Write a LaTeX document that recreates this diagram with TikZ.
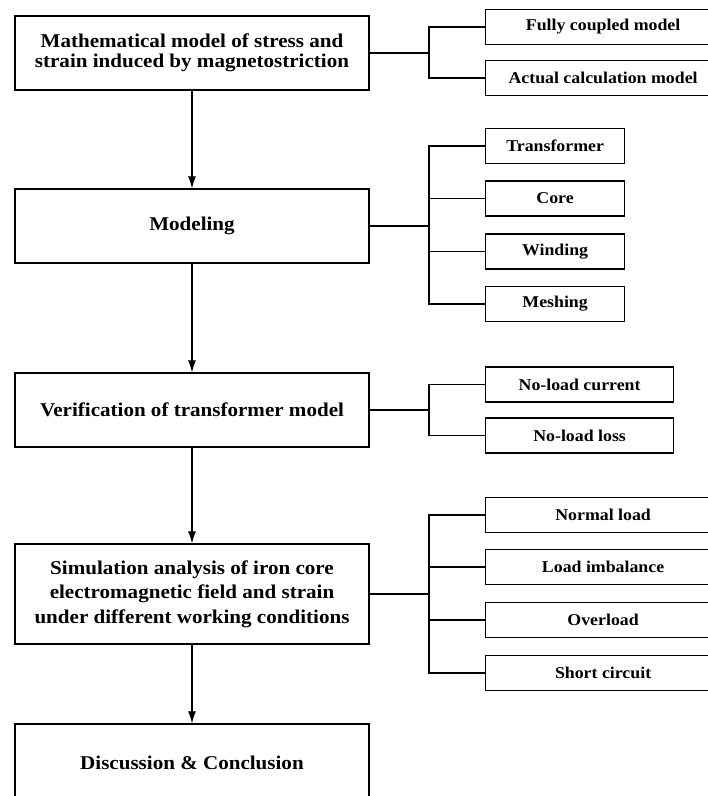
\documentclass[tikz,border=0pt]{standalone}
\usepackage{fontspec}
\setmainfont[FakeStretch=1.08]{Liberation Serif}
\usetikzlibrary{arrows.meta}

\tikzset{
	mainbox/.style={draw, line width=1.2pt, minimum width=354pt, minimum height=74pt,
		align=center, inner sep=0pt, font=\fontsize{19.5}{24.5}\selectfont\bfseries},
	subbox/.style={draw, line width=1.2pt, minimum height=35pt, anchor=west,
		inner sep=0pt, font=\fontsize{16.5}{18}\selectfont\bfseries},
	link/.style={line width=1.1pt},
}

\begin{document}
\begin{tikzpicture}[x=1pt, y=-1pt, >={Latex[length=12pt,width=8pt]}]
		\useasboundingbox (0,0) rectangle (708,796);
		
		% main steps
		\node[mainbox, font=\fontsize{19.5}{20}\selectfont\bfseries] (math) at (192,53)
			{Mathematical model of stress and\\strain induced by magnetostriction};
		\node[mainbox] (model) at (192,226) {Modeling};
		\node[mainbox] (verif) at (192,410) {Verification of transformer model};
		\node[mainbox, minimum height=100pt] (simul) at (192,594)
			{Simulation analysis of iron core\\electromagnetic field and strain\\under different working conditions};
		\node[mainbox, minimum height=78pt] (concl) at (192,763) {Discussion \& Conclusion};
		
		\foreach \a/\b in {math/model, model/verif, verif/simul, simul/concl}
		{
			\draw[link,->] (\a.south)--(\b.north);
		}
		
		% sub items
		\node[subbox, minimum width=235pt] (full) at (485,27) {Fully coupled model};
		\node[subbox, minimum width=235pt] (actual) at (485,78) {Actual calculation model};
		
		\node[subbox, minimum width=139pt] (trans) at (485,146) {Transformer};
		\node[subbox, minimum width=139pt] (core) at (485,198.5) {Core};
		\node[subbox, minimum width=139pt] (wind) at (485,251.5) {Winding};
		\node[subbox, minimum width=139pt] (mesh) at (485,304) {Meshing};
		
		\node[subbox, minimum width=188pt] (cur) at (485,384.5) {No-load current};
		\node[subbox, minimum width=188pt] (loss) at (485,435.5) {No-load loss};
		
		\node[subbox, minimum width=235pt] (normal) at (485,515) {Normal load};
		\node[subbox, minimum width=235pt] (imbal) at (485,567) {Load imbalance};
		\node[subbox, minimum width=235pt] (over) at (485,620) {Overload};
		\node[subbox, minimum width=235pt] (short) at (485,673) {Short circuit};
		
		% branches
		\coordinate (j1) at (429,53);
		\coordinate (j2) at (429,226);
		\coordinate (j3) at (429,410);
		\coordinate (j4) at (429,594);
		
		\draw[link] (math.east)--(j1);
		\draw[link] (model.east)--(j2);
		\draw[link] (verif.east)--(j3);
		\draw[link] (simul.east)--(j4);
		
		\foreach \j/\s in {j1/full, j1/actual, j2/trans, j2/core, j2/wind, j2/mesh,
			j3/cur, j3/loss, j4/normal, j4/imbal, j4/over, j4/short}
		{
			\draw[link] (\j) |- (\s.west);
		}
\end{tikzpicture}
\end{document}
